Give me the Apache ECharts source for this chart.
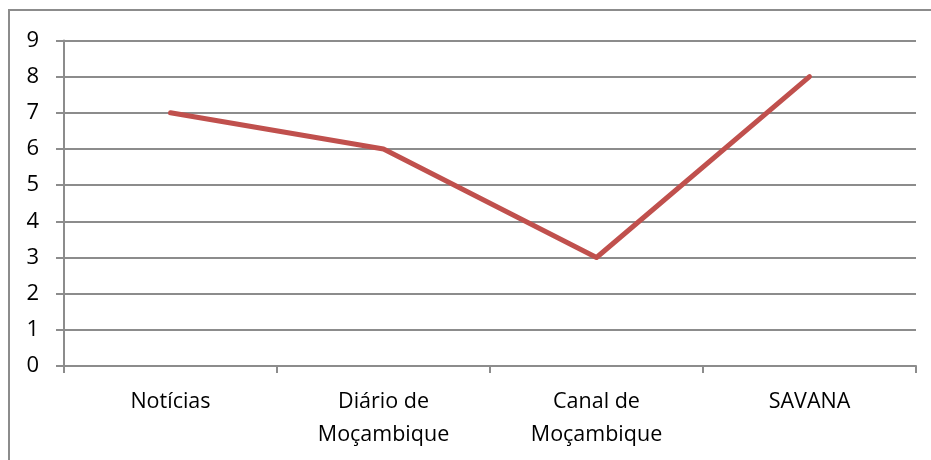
<!DOCTYPE html>
<html><head><meta charset="utf-8">
<script src="https://cdn.jsdelivr.net/npm/echarts@6/dist/echarts.min.js"></script>
<style>html,body{margin:0;padding:0;background:#fff}#c{width:931px;height:460px}</style>
</head><body><div id="c"></div>
<script>
const categories = ['Notícias', 'Diário de\nMoçambique', 'Canal de\nMoçambique', 'SAVANA'];
const values = [7, 6, 3, 8];
const yTicks = [0, 9, 1];

const chart = echarts.init(document.getElementById('c'), null, {renderer: 'canvas'});
const font = '"Open Sans", "Liberation Sans", sans-serif';
chart.setOption({
  animation: false,
  backgroundColor: '#fff',
  graphic: [{
    type: 'rect', shape: {x: 9, y: 10, width: 940, height: 470},
    style: {fill: 'none', stroke: '#8c8c8c', lineWidth: 2}, silent: true
  }],
  grid: {left: 64, right: 15, top: 40.5, bottom: 94, containLabel: false},
  xAxis: {
    type: 'category', data: categories, boundaryGap: true,
    axisLine: {lineStyle: {color: '#8c8c8c', width: 2}},
    axisTick: {show: true, length: 7, alignWithLabel: false, lineStyle: {color: '#8c8c8c', width: 2}},
    axisLabel: {color: '#000', fontSize: 21.5, fontFamily: font, lineHeight: 33, margin: 19, interval: 0}
  },
  yAxis: {
    type: 'value', min: yTicks[0], max: yTicks[1], interval: yTicks[2],
    axisLine: {show: true, lineStyle: {color: '#8c8c8c', width: 2}},
    axisTick: {show: true, length: 8, lineStyle: {color: '#8c8c8c', width: 2}},
    splitLine: {show: true, lineStyle: {color: '#8c8c8c', width: 2}},
    axisLabel: {color: '#000', fontSize: 22, fontFamily: font, margin: 25}
  },
  series: [{
    type: 'line', data: values, symbol: 'none',
    lineStyle: {color: '#C0504D', width: 5, cap: 'round', join: 'round'},
    itemStyle: {color: '#C0504D'}
  }]
});
</script></body></html>
